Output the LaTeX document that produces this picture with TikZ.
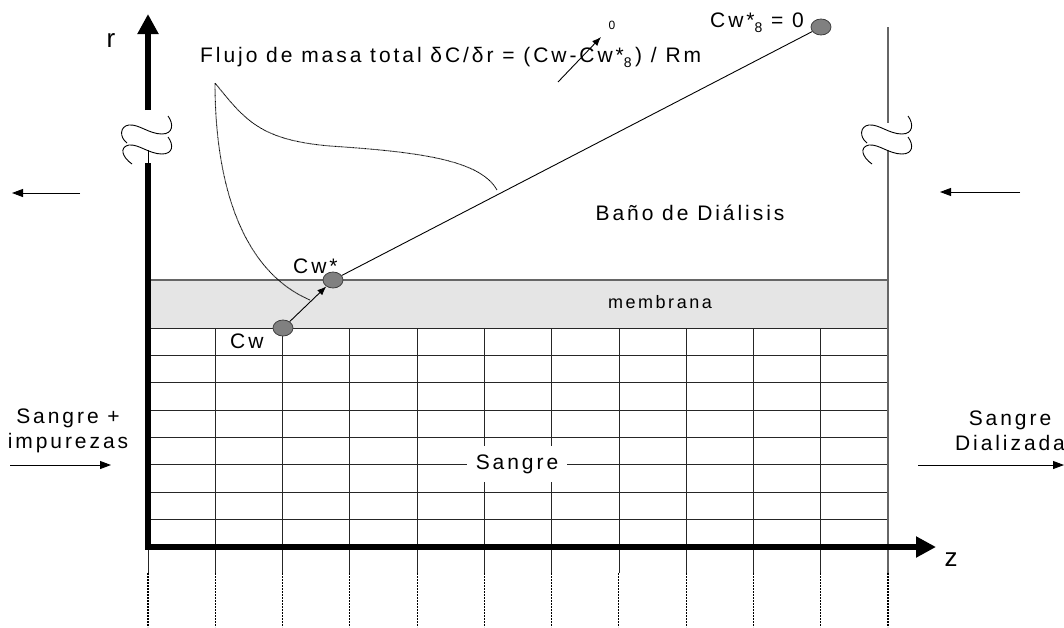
\documentclass[tikz,border=0pt]{standalone}
\usepackage{fontspec}
\setmainfont[LetterSpace=14]{Liberation Sans}
\usetikzlibrary{arrows.meta,shapes.geometric}
\newcommand{\subeight}{\raisebox{-5pt}{\fontsize{14}{14}\selectfont 8}}
\begin{document}
\begin{tikzpicture}[x=1pt,y=-1pt,
  lbl/.style={font=\fontsize{21}{25}\selectfont, inner sep=0pt},
  big/.style={font=\fontsize{26}{30}\selectfont, inner sep=0pt},
  axisln/.style={line width=5.5pt, line join=miter},
  tipbig/.style={-{Triangle[length=20pt,width=20pt]}},
  gridln/.style={line width=0.8pt, black!85},
  edge/.style={line width=1.3pt, black!60},
  dashln/.style={line width=1.1pt, black, dash pattern=on 2pt off 1pt},
  dot/.style={ellipse, draw=black!75, line width=0.8pt, fill=black!50, minimum width=20pt, minimum height=16pt, inner sep=0pt},
  flow/.style={line width=0.9pt, -{Triangle[length=11pt,width=8pt]}},
  brk/.style={line width=0.9pt, black},
  curve/.style={line width=0.9pt, black, dash pattern=on 0.7pt off 0.5pt}
]
\useasboundingbox (0,0) rectangle (1064,627);
\fill[white] (0,0) rectangle (1064,627);

% membrane
\fill[black!10] (148,280) rectangle (888,328);
\draw[edge] (148,280) -- (888,280);
\draw[gridln] (148,328) -- (888,328);

% horizontal grid lines
\foreach \k in {1,...,7} {
  \draw[gridln] (148,{328+27.375*\k}) -- (888,{328+27.375*\k});
}
% vertical grid lines
\foreach \k in {1,...,10} {
  \draw[gridln] ({148+67.27*\k},328) -- ({148+67.27*\k},573);
  \draw[dashln] ({148+67.27*\k},573) -- ({148+67.27*\k},627);
}
\draw[gridln] (148,547) -- (148,573);
\draw[dashln] (148,573) -- (148,627);
% right boundary
\draw[edge] (888,27) -- (888,123);
\draw[edge] (888,150) -- (888,573);
\draw[dashln] (888,573) -- (888,627);

% Sangre label in the grid
\node[lbl, fill=white, inner xsep=9pt, inner ysep=8pt] (sangre) at (517,464) {Sangre};

% axes
\draw[axisln] (148,163) -- (148,547) -- (930,547);
\coordinate (zend) at (936,547);
\coordinate (zstart) at (925,547);
\draw[line width=5.5pt, tipbig] (zstart) -- (zend);
\coordinate (rbot) at (148,110);
\coordinate (rtop) at (148,14);
\draw[line width=5.5pt, tipbig] (rbot) -- (rtop);
\draw[line width=0.8pt] (148,150) -- (148,163);
\node[big] (rlab) at (111,41) {r};
\node[big] (zlab) at (951,560) {z};

% break symbols
\foreach \dx in {0,740} {
  \begin{scope}[xshift=\dx]
  \draw[brk] (168,116) .. controls (174,124) and (173,134) .. (162,134)
     .. controls (149,134) and (139,124) .. (129,125)
     .. controls (120,126) and (119,137) .. (127,143);
  \draw[brk] (168,137) .. controls (174,145) and (173,154) .. (162,154)
     .. controls (149,154) and (139,144) .. (129,145)
     .. controls (119,147) and (122,157) .. (132,164);
  \end{scope}
}

% dotted profile curve
\draw[curve] (310,300) .. controls (240,270) and (215,180) .. (215,83)
   .. controls (245,120) and (260,140) .. (330,146)
   .. controls (420,152) and (480,160) .. (497,190);

% concentration points
\node[dot] (cw) at (283,328) {};
\node[dot] (cws) at (333,280) {};
\node[dot] (cwinf) at (821,27) {};
\draw[line width=0.9pt] (cws) -- (cwinf);
\draw[line width=0.9pt, -{Latex[length=9pt,width=7pt]}] (cw) -- (cws);

\node[lbl, anchor=base west] (cwlab) at (230,348) {Cw};
\node[lbl, anchor=base west] (cwslab) at (293,273) {Cw*};
\node[lbl, anchor=base west] (cwinflab) at (710,27) {Cw*\subeight\ = 0};

% title
\node[lbl, anchor=base west] (title) at (200,62) {Flujo de masa total δC/δr = (Cw-Cw*\subeight\,) / Rm};
\coordinate (sa) at (558,82);
\coordinate (sb) at (601,37);
\draw[line width=0.9pt, -{Latex[length=9pt,width=7pt]}] (sa) -- (sb);
\node[font=\fontsize{12}{13}\selectfont, inner sep=0pt] (zero) at (612,25) {0};

% region labels
\node[lbl] (bano) at (690,213) {Baño de Diálisis};
\node[font=\fontsize{18}{22}\selectfont, inner sep=0pt] (memb) at (660,302) {membrana};

% flow arrows top
\coordinate (la1) at (80,193);
\coordinate (la2) at (12,193);
\draw[flow] (la1) -- (la2);
\coordinate (ra1) at (1020,192);
\coordinate (ra2) at (940,192);
\draw[flow] (ra1) -- (ra2);

% inlet / outlet
\node[lbl, align=center] (inlet) at (68,431) {Sangre +\\impurezas};
\coordinate (ia1) at (10,465);
\coordinate (ia2) at (111,465);
\draw[flow] (ia1) -- (ia2);
\node[lbl, align=center] (outlet) at (1010,431) {Sangre\\Dializada};
\coordinate (oa1) at (918,465);
\coordinate (oa2) at (1064,465);
\draw[flow] (oa1) -- (oa2);
\end{tikzpicture}
\end{document}
